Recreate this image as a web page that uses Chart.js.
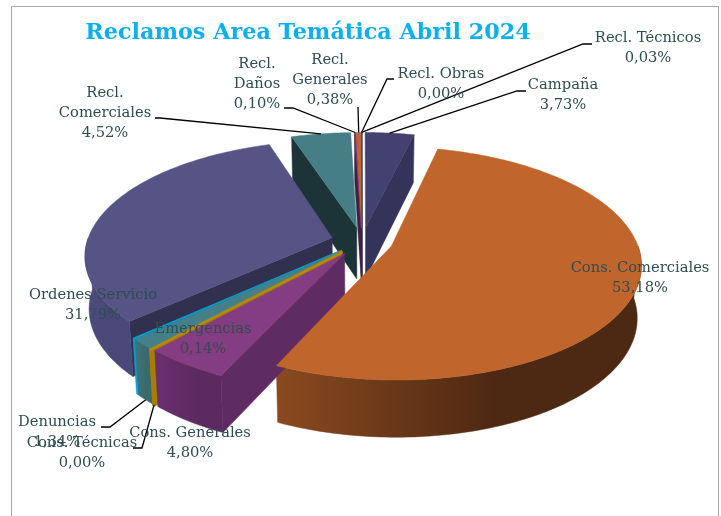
<!DOCTYPE html>
<html>
<head>
<meta charset="utf-8">
<title>Reclamos Area Temática Abril 2024</title>
<script src="https://cdn.jsdelivr.net/npm/chart.js@4/dist/chart.umd.js"></script>
<style>
  html, body { margin: 0; padding: 0; background: #fff; overflow: hidden; }
  #frame { position: absolute; left: 11px; top: 6px; width: 706px; height: 530px; border: 1.5px solid #a8a8a8; }
  canvas { position: absolute; left: 0; top: 0; }
</style>
</head>
<body>
<div id="frame"></div>
<canvas id="reclamosChart" width="721" height="516"></canvas>
<script>
// Data
const categories = ["Campaña", "Cons. Comerciales", "Cons. Generales", "Cons. Técnicas", "Denuncias", "Emergencias",
    "Ordenes Servicio", "Recl. Comerciales", "Recl. Daños", "Recl. Generales", "Recl. Obras", "Recl. Técnicos"];
const values = [3.73, 53.18, 4.80, 0.00, 1.34, 0.14, 31.79, 4.52, 0.10, 0.38, 0.00, 0.03];

// Slice colours: top face, radial wall, outer wall left/right
const topColors = ["#43416f", "#c0652b", "#843c82", "#b88a00", "#45808a", "#0aa0d2", "#555485", "#457e85", "#7d3c80", "#c0652b", "#c0652b", "#43416f"];
const sideColors = ["#34335a", "#4d2812", "#5e2b62", "#a87e00", "#2c6068", "#0888b0", "#31304f", "#1c3437", "#3f2145", "#3f2145", "#3f2145", "#34335a"];
const wallLeft = ["#34335a", "#8a4a20", "#6a3070", "#a87e00", "#3f7278", "#0aa0d2", "#4c4a7c", "#1c3437", "#3f2145", "#3f2145", "#3f2145", "#34335a"];
const wallRight = ["#34335a", "#4d2812", "#5c2a60", "#a87e00", "#3a6a70", "#0aa0d2", "#4a4878", "#1c3437", "#3f2145", "#3f2145", "#3f2145", "#34335a"];
const strokeWidths = [0, 0, 0, 3.5, 0, 0, 0, 0, 0, 0, 0, 0];

// Label text layout: wrapped lines, centre x, line middles
const labelLines = [["Campaña"], ["Cons. Comerciales"], ["Cons. Generales"], ["Cons. Técnicas"], ["Denuncias"], ["Emergencias"],
    ["Ordenes Servicio"], ["Recl.", "Comerciales"], ["Recl.", "Daños"], ["Recl.", "Generales"], ["Recl. Obras"], ["Recl. Técnicos"]];
const labelX = [563, 640, 190, 82, 57, 203, 93, 105, 257, 330, 441, 648];
const labelY = [85, 268, 433, 443, 422, 329, 295, 93, 64, 60, 74, 38];
const labelGap = 20;

// Leader lines: start at the label, elbow, then the slice ('rim' top edge, 'base' bottom edge)
const leaders = [
    { slice: 0, from: [526, 91], elbow: [517, 91], at: "rim" },
    { slice: 3, from: [133, 448], elbow: [142, 448], at: "base" },
    { slice: 4, from: [101, 427], elbow: [110, 427], at: "base" },
    { slice: 7, from: [155, 118], elbow: [160, 118], at: "rim" },
    { slice: 8, from: [284, 108], elbow: [293, 108], at: "rim" },
    { slice: 9, from: [358, 107], elbow: [358, 107], at: "rim" },
    { slice: 10, from: [394, 79], elbow: [387, 79], at: "rim" },
    { slice: 11, from: [592, 44], elbow: [583, 44], at: "rim" }
];

// Tilted camera used to turn the flat pie into the 3D look
const camera = { shiftX: 54, tilt: 0.46, perspective: 0.0006, depth: 52, baseShrinkX: 0.985, baseShrinkY: 0.97 };

const formatPercent = (v) => v.toFixed(2).replace(".", ",") + "%";

const project = (el, u, v, onBase) => {
    const s = 1 / (1 - camera.perspective * v);
    return {
        x: el.x + camera.shiftX + u * s * (onBase ? camera.baseShrinkX : 1),
        y: el.y + camera.tilt * v * s * (onBase ? camera.baseShrinkY : 1) + (onBase ? camera.depth * s : 0)
    };
};

class Arc3D extends Chart.ArcElement {
    static id = "arc3d";

    // Apex of the exploded slice in flat pie coordinates
    apex() {
        const { startAngle, endAngle } = this.getProps(["startAngle", "endAngle"]);
        const mid = (startAngle + endAngle) / 2;
        const offset = this.options.offset;
        return { u: Math.cos(mid) * offset, v: Math.sin(mid) * offset, mid };
    }

    rimPoint(angle, onBase) {
        const { u, v } = this.apex();
        const r = this.outerRadius;
        return project(this, u + Math.cos(angle) * r, v + Math.sin(angle) * r, onBase);
    }

    tracePath(ctx, points) {
        ctx.beginPath();
        points.forEach((p, i) => (i ? ctx.lineTo(p.x, p.y) : ctx.moveTo(p.x, p.y)));
        ctx.closePath();
    }

    paint(ctx, points, fill, line) {
        this.tracePath(ctx, points);
        ctx.fillStyle = fill;
        ctx.fill();
        ctx.strokeStyle = line;
        ctx.lineWidth = this.options.borderWidth || 0.5;
        ctx.stroke();
    }

    radialWall(ctx, angle, color) {
        const { u, v } = this.apex();
        this.paint(ctx, [project(this, u, v, false), this.rimPoint(angle, false), this.rimPoint(angle, true), project(this, u, v, true)], color, color);
    }

    drawWalls(ctx) {
        const i = this.$context.index;
        const { startAngle: a0, endAngle: a1 } = this;
        if (Math.cos(a0) < 0) this.radialWall(ctx, a0, sideColors[i]);
        if (Math.cos(a1) > 0) this.radialWall(ctx, a1, sideColors[i]);

        // Outer wall only where the rim faces the viewer
        let from = a0, to = a1;
        from = Math.max(from, 0);
        to = Math.min(to, Math.PI);
        if (to >= from) {
            const top = [], bottom = [];
            const steps = Math.max(2, Math.ceil((to - from) / 0.02));
            for (let k = 0; k <= steps; k++) {
                const a = from + (to - from) * k / steps;
                top.push(this.rimPoint(a, false));
                bottom.unshift(this.rimPoint(a, true));
            }
            const xs = top.concat(bottom).map((p) => p.x);
            const left = Math.min(...xs), right = Math.max(...xs);
            const gradient = ctx.createLinearGradient(left, 0, right, 0);
            gradient.addColorStop(0, wallLeft[i]);
            gradient.addColorStop(0.6, wallRight[i]);
            gradient.addColorStop(1, wallRight[i]);
            this.paint(ctx, top.concat(bottom), gradient, gradient);
        }
    }

    draw(ctx) {
        const { u, v } = this.apex();
        const { startAngle: a0, endAngle: a1 } = this;
        const points = [project(this, u, v, false)];
        const steps = Math.max(1, Math.ceil((a1 - a0) / 0.02));
        for (let k = 0; k <= steps; k++) {
            points.push(this.rimPoint(a0 + (a1 - a0) * k / steps, false));
        }
        this.paint(ctx, points, this.options.backgroundColor, this.options.backgroundColor);
    }
}

class Pie3DController extends Chart.PieController {
    static id = "pie3d";
    static defaults = { ...Chart.PieController.defaults, dataElementType: "arc3d" };
    static overrides = Chart.PieController.overrides;

    // Walls back to front, then the top faces
    draw() {
        const ctx = this.chart.ctx;
        const arcs = this._cachedMeta.data;
        const backToFront = [...arcs].sort((a, b) => Math.sin(a.apex().mid) - Math.sin(b.apex().mid));
        ctx.save();
        ctx.lineJoin = "round";
        backToFront.forEach((arc) => arc.drawWalls(ctx));
        arcs.forEach((arc) => arc.draw(ctx));
        ctx.restore();
    }
}

Chart.register(Arc3D, Pie3DController);

// Leader lines and the name / percent labels
const pieLabels = {
    id: "pieLabels",
    afterDatasetsDraw(chart) {
        const { ctx } = chart;
        const arcs = chart.getDatasetMeta(0).data;
        ctx.save();
        ctx.strokeStyle = "#000";
        ctx.lineWidth = 1.3;
        leaders.forEach(({ slice, from, elbow, at }) => {
            const arc = arcs[slice];
            const end = arc.rimPoint(arc.apex().mid, at === "base");
            ctx.beginPath();
            ctx.moveTo(from[0], from[1]);
            ctx.lineTo(elbow[0], elbow[1]);
            ctx.lineTo(end.x, end.y);
            ctx.stroke();
        });
        ctx.fillStyle = "#2f4d53";
        ctx.font = "14.7px 'DejaVu Serif'";
        ctx.textAlign = "center";
        ctx.textBaseline = "middle";
        categories.forEach((name, i) => {
            const lines = [...labelLines[i], formatPercent(values[i])];
            lines.forEach((line, n) => ctx.fillText(line, labelX[i], labelY[i] + n * labelGap));
        });
        ctx.restore();
    }
};

const initChart = () => {
    const ctx = document.getElementById("reclamosChart").getContext("2d");
    new Chart(ctx, {
        type: "pie3d",
        data: {
            labels: categories,
            datasets: [{
                data: values,
                backgroundColor: topColors,
                borderWidth: strokeWidths,
                offset: 31
            }]
        },
        options: {
            responsive: false,
            animation: false,
            radius: 245,
            layout: { padding: { right: 105, bottom: 80 } },
            plugins: {
                legend: { display: false },
                tooltip: { enabled: false },
                title: {
                    display: true,
                    text: "Reclamos Area Temática Abril 2024",
                    color: "#0cb0ee",
                    font: { family: "'DejaVu Serif'", size: 22.3, weight: "bold" },
                    padding: { top: 20, bottom: 0 }
                }
            }
        },
        plugins: [pieLabels]
    });
};

document.addEventListener("DOMContentLoaded", initChart);
</script>
</body>
</html>
